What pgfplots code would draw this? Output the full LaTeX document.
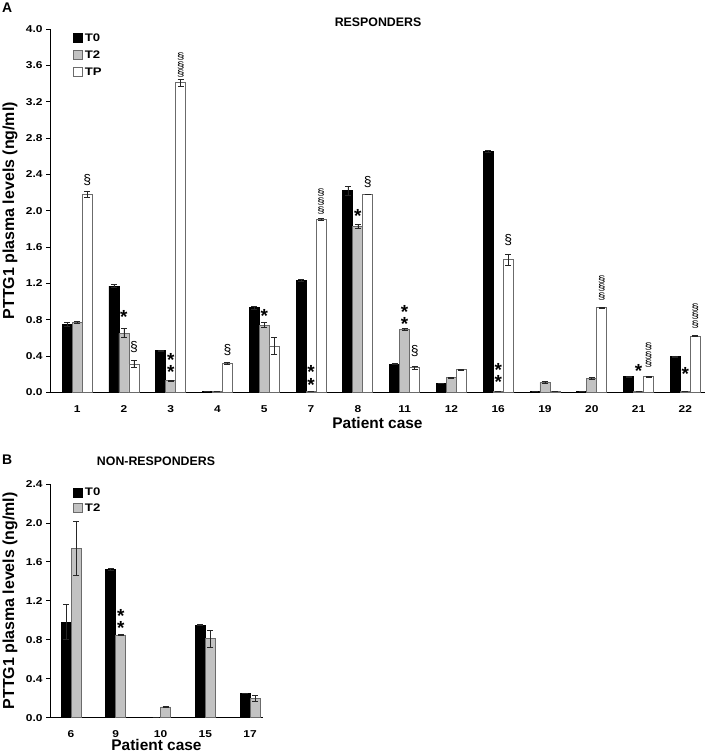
\documentclass[border=0pt]{standalone}
\usepackage{fontspec}
\setmainfont{Liberation Sans}
\newfontfamily\tickfont[FakeStretch=1.2]{Liberation Sans}
\usepackage{graphicx}
\usepackage{pgfplots}
\pgfplotsset{compat=1.18}
\usepackage{pgfplotstable}

\definecolor{barGray}{gray}{0.76}
\definecolor{edgeGray}{gray}{0.42}

\pgfplotstableread{
x t0 e0 t2 e2 tp ep
0 0.75 0.02 0.77 0.01 2.18 0.03
1 1.17 0.02 0.65 0.05 0.31 0.04
2 0.46 0.005 0.13 0.005 3.41 0.04
3 0.005 0 0.005 0 0.32 0.01
4 0.93 0.02 0.74 0.03 0.51 0.09
5 1.23 0.01 0.005 0 1.90 0.01
6 2.22 0.05 1.83 0.02 2.18 0
7 0.31 0.005 0.69 0.01 0.27 0.02
8 0.10 0 0.16 0.005 0.25 0.005
9 2.65 0.01 0.005 0 1.46 0.06
10 0.005 0 0.11 0.01 0.005 0
11 0.005 0 0.15 0.01 0.93 0.005
12 0.17 0.005 0.005 0 0.17 0.005
13 0.39 0.01 0.005 0 0.62 0.005
}\topdata

\pgfplotstableread{
x t0 e0 t2 e2
0 0.98 0.18 1.74 0.28
1 1.52 0.01 0.85 0.005
2 0.005 0 0.11 0.005
3 0.95 0.005 0.81 0.09
4 0.25 0.005 0.20 0.03
}\botdata

\newcommand{\sq}{\scalebox{1}[0.66]{§}}

\pgfplotsset{
  mybar/.style={ybar, bar width=10bp, bar shift=0bp, line width=0.8pt,
    legend image code/.code={\draw[##1, line width=0.8pt] (0bp,-4.5bp) rectangle (9bp,4.5bp);},
    error bars/y dir=both, error bars/y explicit,
    error bars/error bar style={line width=0.7pt, black!85},
    error bars/error mark options={rotate=90, mark size=3bp, line width=0.7pt, black!85}},
  myaxis/.style={scale only axis, anchor=south west, clip=false,
    axis lines*=left, axis line style={line width=1pt},
    tick align=outside, major tick length=4bp,
    xtick style={draw=none}, ytick style={line width=0.8pt, black},
    /pgf/number format/assume math mode=true,
    /pgf/number format/fixed, /pgf/number format/fixed zerofill, /pgf/number format/precision=1,
    yticklabel style={font=\tickfont\bfseries\fontsize{10}{12}\selectfont},
    xticklabel style={font=\tickfont\bfseries\fontsize{10}{12}\selectfont, anchor=center},
    xtick={0,...,13},
    xlabel style={font=\bfseries\fontsize{15.5}{18}\selectfont, at={(axis description cs:0.5,0)}, anchor=center},
    ylabel style={font=\bfseries\fontsize{16}{18}\selectfont, at={(axis description cs:0,0.5)}, anchor=center, yshift=40bp},
    legend style={draw=none, fill=none, inner sep=0pt, anchor=north west,
      font=\tickfont\bfseries\fontsize{11}{13}\selectfont, legend cell align=left},
  },
}
\tikzset{
  ast/.style={font=\bfseries\fontsize{19}{20}\selectfont, inner sep=0pt, yshift=-4bp},
  sec/.style={font=\fontsize{14}{16}\selectfont, inner sep=0pt},
  secs/.style={font=\fontsize{14}{8.6}\selectfont, inner sep=0pt, align=center},
}

\begin{document}
\begin{tikzpicture}
\useasboundingbox (0bp,0bp) rectangle (707bp,754bp);
\node[anchor=north west, inner sep=0pt, font=\bfseries\fontsize{14}{16}\selectfont] at (2bp,751bp) {A};
\node[inner sep=0pt, font=\bfseries\fontsize{12.4}{14}\selectfont] at (378bp,731.5bp) {RESPONDERS};
\node[anchor=north west, inner sep=0pt, font=\bfseries\fontsize{14}{16}\selectfont] at (2bp,299bp) {B};
\node[inner sep=0pt, font=\bfseries\fontsize{12.4}{14}\selectfont] at (156bp,293bp) {NON-RESPONDERS};

% ---------- A: responders ----------
\begin{axis}[myaxis,
  at={(50bp,361.7bp)}, width=655bp, height=363.3bp,
  xmin=-0.58, xmax=13.42, ymin=0, ymax=4,
  ytick={0,0.4,0.8,1.2,1.6,2.0,2.4,2.8,3.2,3.6,4.0},
  xticklabels={1,2,3,4,5,7,8,11,12,16,19,20,21,22},
  xticklabel style={yshift=-13bp},
  xlabel={Patient case}, xlabel style={yshift=-31bp},
  ylabel={PTTG1 plasma levels (ng/ml)},
  legend style={at={(rel axis cs:0.035,0.994)}, row sep=4bp},
]
\addplot[mybar, fill=black, draw=black] table[x expr=\thisrow{x}-0.21374, y=t0, y error=e0]{\topdata};
\addlegendentry{T0}
\addplot[mybar, fill=barGray, draw=edgeGray] table[x=x, y=t2, y error=e2]{\topdata};
\addlegendentry{T2}
\addplot[mybar, fill=white, draw=edgeGray] table[x expr=\thisrow{x}+0.21374, y=tp, y error=ep]{\topdata};
\addlegendentry{TP}

% single section marks above TP bars
\node[sec, xshift=10bp] at (axis cs:0,2.34) {§};
\node[sec, xshift=10bp] at (axis cs:1,0.50) {§};
\node[sec, xshift=10bp] at (axis cs:3,0.47) {§};
\node[sec, xshift=10bp] at (axis cs:6,2.32) {§};
\node[sec, xshift=10bp] at (axis cs:7,0.45) {§};
\node[sec, xshift=10bp] at (axis cs:9,1.68) {§};
% triple section marks
\node[secs, xshift=10bp] at (axis cs:2,3.60) {\sq\\\sq\\\sq};
\node[secs, xshift=10bp] at (axis cs:5,2.10) {\sq\\\sq\\\sq};
\node[secs, xshift=10bp] at (axis cs:11,1.15) {\sq\\\sq\\\sq};
\node[secs, xshift=10bp] at (axis cs:12,0.41) {\sq\\\sq\\\sq};
\node[secs, xshift=10bp] at (axis cs:13,0.84) {\sq\\\sq\\\sq};
% asterisks
\node[ast] at (axis cs:1,0.87) {*};
\node[ast] at (axis cs:4,0.88) {*};
\node[ast] at (axis cs:6,1.99) {*};
\node[ast] at (axis cs:12,0.275) {*};
\node[ast] at (axis cs:13,0.245) {*};
\node[ast] at (axis cs:2,0.40) {*};
\node[ast] at (axis cs:2,0.27) {*};
\node[ast] at (axis cs:5,0.27) {*};
\node[ast] at (axis cs:5,0.13) {*};
\node[ast] at (axis cs:7,0.93) {*};
\node[ast] at (axis cs:7,0.80) {*};
\node[ast] at (axis cs:9,0.29) {*};
\node[ast] at (axis cs:9,0.16) {*};
\end{axis}

% ---------- B: non-responders ----------
\begin{axis}[myaxis,
  at={(50bp,36.3bp)}, width=213bp, height=233.7bp,
  xmin=-0.47, xmax=4.29, ymin=0, ymax=2.4,
  ytick={0,0.4,0.8,1.2,1.6,2.0,2.4},
  xtick={0,...,4},
  xticklabels={6,9,10,15,17},
  xticklabel style={yshift=-12.5bp},
  xlabel={Patient case}, xlabel style={yshift=-27.5bp},
  ylabel={PTTG1 plasma levels (ng/ml)},
  legend style={at={(rel axis cs:0.108,0.991)}, row sep=2bp},
]
\addplot[mybar, fill=black, draw=black] table[x expr=\thisrow{x}-0.11174, y=t0, y error=e0]{\botdata};
\addlegendentry{T0}
\addplot[mybar, fill=barGray, draw=edgeGray] table[x expr=\thisrow{x}+0.11174, y=t2, y error=e2]{\botdata};
\addlegendentry{T2}
\node[ast, xshift=5bp] at (axis cs:1,1.09) {*};
\node[ast, xshift=5bp] at (axis cs:1,0.96) {*};
\end{axis}
\end{tikzpicture}
\end{document}
